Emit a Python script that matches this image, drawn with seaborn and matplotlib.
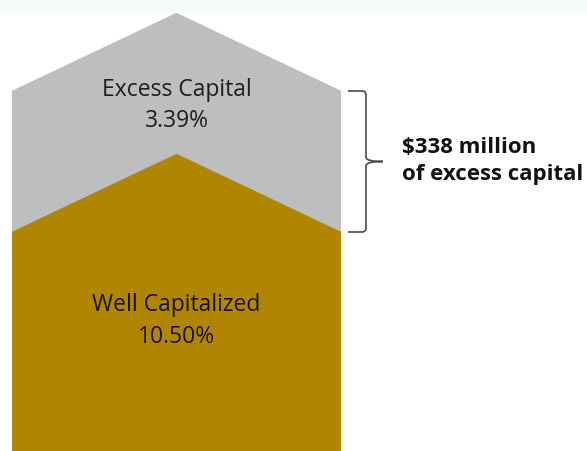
import numpy as np
import pandas as pd
import matplotlib
matplotlib.use("Agg")
import matplotlib.pyplot as plt
from matplotlib.patches import Polygon, PathPatch
from matplotlib.path import Path
import seaborn as sns

# Capital stack (percent of risk-weighted assets)
layers = ["Well Capitalized", "Excess Capital"]
values = [10.50, 3.39]
value_labels = ["10.50%", "3.39%"]
brace_note = ["$338 million", "of excess capital"]

GOLD = "#B08500"
GRAY = "#BDBEC0"
CHEVRON = 1.88  # height of the arrow tip, in percentage points

sns.set_theme(style="white")
plt.rcParams["font.family"] = ["Open Sans", "DejaVu Sans"]

fig = plt.figure(figsize=(5.87, 4.51), dpi=100)
ax = fig.add_axes([0, 0, 1, 1])

well, excess = values
total = well + excess

# stacked bar: total in gray, well-capitalized layer drawn over it in gold
stack = pd.DataFrame({"group": ["Capital"], "total": [total], "well": [well]})
sns.barplot(data=stack, x="group", y="total", color=GRAY, saturation=1,
            width=0.8, ax=ax, linewidth=0)
sns.barplot(data=stack, x="group", y="well", color=GOLD, saturation=1,
            width=0.8, ax=ax, linewidth=0)

bar = ax.patches[0]
x0, w = bar.get_x(), bar.get_width()
x1, xc = x0 + w, x0 + w / 2

# arrow tips on top of each layer (gold tip overlaps the gray layer)
ax.add_patch(Polygon([(x0, total), (xc, total + CHEVRON), (x1, total)],
                     closed=True, facecolor=GRAY, edgecolor="none"))
ax.add_patch(Polygon([(x0, well), (xc, well + CHEVRON), (x1, well)],
                     closed=True, facecolor=GOLD, edgecolor="none"))

# view window: the base of the stack runs off the bottom edge
ax.set_xlim(xc - 0.4279, xc + 0.9952)
ax.set_ylim(5.234, 16.078)
ax.axis("off")

# faint header band
ax.axhspan(15.80, 16.078, color="#F8FBFC", zorder=0, linewidth=0)

# layer labels
fs = 16.5
ax.text(xc, 13.77, layers[1], ha="center", va="baseline", fontsize=fs, color="#1E1E1E")
ax.text(xc, 13.02, value_labels[1], ha="center", va="baseline", fontsize=fs, color="#1E1E1E")
ax.text(xc, 8.61, layers[0], ha="center", va="baseline", fontsize=fs, color="#1A1200")
ax.text(xc, 7.82, value_labels[0], ha="center", va="baseline", fontsize=fs, color="#1A1200")

# curly brace spanning the excess layer
bx0, bxv, bxt = x1 + 0.0158, x1 + 0.0594, x1 + 0.1006
rx, ry = 0.0097, 0.10
mid = well + excess / 2
verts = [
    (bx0, total), (bxv - rx, total), (bxv, total), (bxv, total - ry),
    (bxv, mid + ry), (bxv, mid), (bxt, mid),
    (bxv, mid), (bxv, mid - ry),
    (bxv, well + ry), (bxv, well), (bxv - rx, well), (bx0, well),
]
codes = [Path.MOVETO, Path.LINETO, Path.CURVE3, Path.CURVE3,
         Path.LINETO, Path.CURVE3, Path.CURVE3,
         Path.CURVE3, Path.CURVE3,
         Path.LINETO, Path.CURVE3, Path.CURVE3, Path.LINETO]
ax.add_patch(PathPatch(Path(verts, codes), facecolor="none",
                       edgecolor="#4A4A4A", linewidth=1.2))

ax.text(x1 + 0.1467, 12.39, brace_note[0], ha="left", va="baseline",
        fontsize=16, fontweight="bold", color="#111111")
ax.text(x1 + 0.1467, 11.75, brace_note[1], ha="left", va="baseline",
        fontsize=16, fontweight="bold", color="#111111")

fig.savefig("out.png", dpi=100)
